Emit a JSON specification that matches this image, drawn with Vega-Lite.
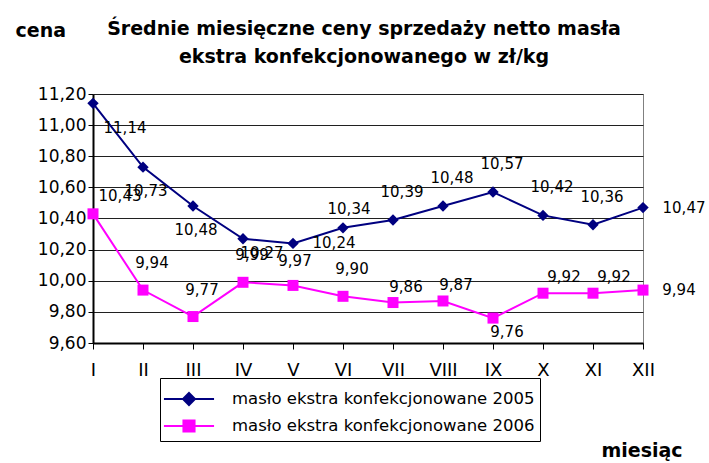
{
  "$schema": "https://vega.github.io/schema/vega-lite/v6.json",
  "width": 550,
  "height": 249,
  "autosize": "none",
  "padding": {"left": 93, "top": 94, "right": 66, "bottom": 120},
  "background": "#ffffff",
  "config": {
    "locale": {"number": {"decimal": ",", "thousands": " ", "grouping": [3], "currency": ["", " zł"]}},
    "view": {"stroke": "#808080", "strokeWidth": 1},
    "font": "DejaVu Sans"
  },
  "title": {
    "text": ["Średnie miesięczne ceny sprzedaży netto masła", "ekstra konfekcjonowanego w zł/kg"],
    "font": "DejaVu Sans",
    "fontSize": 19,
    "fontWeight": "bold",
    "color": "#000000",
    "anchor": "middle",
    "lineHeight": 28,
    "offset": -46,
    "dx": -4
  },
  "data": {
    "values": [
      {"miesiac": "I", "seria": "masło ekstra konfekcjonowane 2005", "cena": 11.14},
      {"miesiac": "II", "seria": "masło ekstra konfekcjonowane 2005", "cena": 10.73},
      {"miesiac": "III", "seria": "masło ekstra konfekcjonowane 2005", "cena": 10.48},
      {"miesiac": "IV", "seria": "masło ekstra konfekcjonowane 2005", "cena": 10.27},
      {"miesiac": "V", "seria": "masło ekstra konfekcjonowane 2005", "cena": 10.24},
      {"miesiac": "VI", "seria": "masło ekstra konfekcjonowane 2005", "cena": 10.34},
      {"miesiac": "VII", "seria": "masło ekstra konfekcjonowane 2005", "cena": 10.39},
      {"miesiac": "VIII", "seria": "masło ekstra konfekcjonowane 2005", "cena": 10.48},
      {"miesiac": "IX", "seria": "masło ekstra konfekcjonowane 2005", "cena": 10.57},
      {"miesiac": "X", "seria": "masło ekstra konfekcjonowane 2005", "cena": 10.42},
      {"miesiac": "XI", "seria": "masło ekstra konfekcjonowane 2005", "cena": 10.36},
      {"miesiac": "XII", "seria": "masło ekstra konfekcjonowane 2005", "cena": 10.47},
      {"miesiac": "I", "seria": "masło ekstra konfekcjonowane 2006", "cena": 10.43},
      {"miesiac": "II", "seria": "masło ekstra konfekcjonowane 2006", "cena": 9.94},
      {"miesiac": "III", "seria": "masło ekstra konfekcjonowane 2006", "cena": 9.77},
      {"miesiac": "IV", "seria": "masło ekstra konfekcjonowane 2006", "cena": 9.99},
      {"miesiac": "V", "seria": "masło ekstra konfekcjonowane 2006", "cena": 9.97},
      {"miesiac": "VI", "seria": "masło ekstra konfekcjonowane 2006", "cena": 9.90},
      {"miesiac": "VII", "seria": "masło ekstra konfekcjonowane 2006", "cena": 9.86},
      {"miesiac": "VIII", "seria": "masło ekstra konfekcjonowane 2006", "cena": 9.87},
      {"miesiac": "IX", "seria": "masło ekstra konfekcjonowane 2006", "cena": 9.76},
      {"miesiac": "X", "seria": "masło ekstra konfekcjonowane 2006", "cena": 9.92},
      {"miesiac": "XI", "seria": "masło ekstra konfekcjonowane 2006", "cena": 9.92},
      {"miesiac": "XII", "seria": "masło ekstra konfekcjonowane 2006", "cena": 9.94}
    ]
  },
  "encoding": {
    "x": {
      "field": "miesiac",
      "type": "ordinal",
      "scale": {"type": "point", "domain": ["I", "II", "III", "IV", "V", "VI", "VII", "VIII", "IX", "X", "XI", "XII"], "padding": 0},
      "axis": {
        "title": "miesiąc",
        "labelAngle": 0,
        "grid": false,
        "domainColor": "#000000",
        "domainWidth": 2,
        "tickColor": "#000000",
        "tickSize": 6,
        "labelPadding": 12,
        "labelFont": "DejaVu Sans",
        "labelFontSize": 18,
        "labelColor": "#000000",
        "titleX": 508,
        "titleY": 107,
        "titleAlign": "left",
        "titleBaseline": "middle",
        "titleFont": "DejaVu Sans",
        "titleFontSize": 19,
        "titleFontWeight": "bold",
        "titleColor": "#000000"
      }
    },
    "y": {
      "field": "cena",
      "type": "quantitative",
      "scale": {"domain": [9.6, 11.2], "nice": false, "zero": false},
      "axis": {
        "values": [9.6, 9.8, 10.0, 10.2, 10.4, 10.6, 10.8, 11.0, 11.2],
        "format": ".2f",
        "grid": true,
        "gridColor": "#202020",
        "gridWidth": 1,
        "domainColor": "#000000",
        "domainWidth": 2,
        "tickColor": "#000000",
        "tickSize": 5,
        "labelPadding": 2,
        "labelFont": "DejaVu Sans",
        "labelFontSize": 17,
        "labelColor": "#000000",
        "title": "cena",
        "titleAngle": 0,
        "titleX": -78,
        "titleY": -64,
        "titleAlign": "left",
        "titleBaseline": "middle",
        "titleFont": "DejaVu Sans",
        "titleFontSize": 19,
        "titleFontWeight": "bold",
        "titleColor": "#000000"
      }
    }
  },
  "layer": [
    {
      "mark": {"type": "line", "strokeWidth": 2},
      "encoding": {
        "color": {
          "field": "seria",
          "type": "nominal",
          "scale": {"domain": ["masło ekstra konfekcjonowane 2005", "masło ekstra konfekcjonowane 2006"], "range": ["#000080", "#FF00FF"]},
          "legend": {
            "orient": "none",
            "legendX": 67,
            "legendY": 284,
            "title": null,
            "strokeColor": "#000000",
            "fillColor": "#ffffff",
            "padding": 5,
            "labelFont": "DejaVu Sans",
            "labelFontSize": 16.5,
            "labelColor": "#000000",
            "labelLimit": 500,
            "symbolSize": 900,
            "symbolStrokeWidth": 2,
            "symbolOffset": 8,
            "labelOffset": 27,
            "rowPadding": 1,
            "encode": {
              "symbols": {
                "update": {
                  "shape": {"signal": "datum.value == 'masło ekstra konfekcjonowane 2005' ? 'M-1.67,0L1.67,0M0,-0.4L0.4,0L0,0.4L-0.4,0Z' : 'M-1.67,0L1.67,0M-0.37,-0.37L0.37,-0.37L0.37,0.37L-0.37,0.37Z'"},
                  "fill": {"scale": "color", "field": "value"},
                  "fillOpacity": {"value": 1}
                }
              }
            }
          }
        }
      }
    },
    {
      "transform": [{"filter": {"field": "seria", "equal": "masło ekstra konfekcjonowane 2005"}}],
      "mark": {"type": "point", "shape": "diamond", "filled": true, "size": 130, "opacity": 1, "color": "#000080"},
      "encoding": {}
    },
    {
      "transform": [{"filter": {"field": "seria", "equal": "masło ekstra konfekcjonowane 2006"}}],
      "mark": {"type": "point", "shape": "square", "filled": true, "size": 121, "opacity": 1, "color": "#FF00FF"},
      "encoding": {}
    },
    {
      "transform": [{"filter": {"and": [{"field": "seria", "equal": "masło ekstra konfekcjonowane 2005"}, {"field": "miesiac", "oneOf": ["I"]}]}}],
      "mark": {"type": "text", "dx": 32, "dy": 25, "fontSize": 15, "font": "DejaVu Sans", "fill": "#000000", "align": "center", "baseline": "middle"},
      "encoding": {"text": {"field": "cena", "type": "quantitative", "format": ".2f"}}
    },
    {
      "transform": [{"filter": {"and": [{"field": "seria", "equal": "masło ekstra konfekcjonowane 2005"}, {"field": "miesiac", "oneOf": ["II", "III"]}]}}],
      "mark": {"type": "text", "dx": 3, "dy": 24, "fontSize": 15, "font": "DejaVu Sans", "fill": "#000000", "align": "center", "baseline": "middle"},
      "encoding": {"text": {"field": "cena", "type": "quantitative", "format": ".2f"}}
    },
    {
      "transform": [{"filter": {"and": [{"field": "seria", "equal": "masło ekstra konfekcjonowane 2005"}, {"field": "miesiac", "oneOf": ["IV"]}]}}],
      "mark": {"type": "text", "dx": 19, "dy": 14, "fontSize": 15, "font": "DejaVu Sans", "fill": "#000000", "align": "center", "baseline": "middle"},
      "encoding": {"text": {"field": "cena", "type": "quantitative", "format": ".2f"}}
    },
    {
      "transform": [{"filter": {"and": [{"field": "seria", "equal": "masło ekstra konfekcjonowane 2005"}, {"field": "miesiac", "oneOf": ["V", "XII"]}]}}],
      "mark": {"type": "text", "dx": 41, "dy": 0, "fontSize": 15, "font": "DejaVu Sans", "fill": "#000000", "align": "center", "baseline": "middle"},
      "encoding": {"text": {"field": "cena", "type": "quantitative", "format": ".2f"}}
    },
    {
      "transform": [{"filter": {"and": [{"field": "seria", "equal": "masło ekstra konfekcjonowane 2005"}, {"field": "miesiac", "oneOf": ["VI"]}]}}],
      "mark": {"type": "text", "dx": 6, "dy": -19, "fontSize": 15, "font": "DejaVu Sans", "fill": "#000000", "align": "center", "baseline": "middle"},
      "encoding": {"text": {"field": "cena", "type": "quantitative", "format": ".2f"}}
    },
    {
      "transform": [{"filter": {"and": [{"field": "seria", "equal": "masło ekstra konfekcjonowane 2005"}, {"field": "miesiac", "oneOf": ["VII", "VIII", "IX", "X", "XI"]}]}}],
      "mark": {"type": "text", "dx": 9, "dy": -28, "fontSize": 15, "font": "DejaVu Sans", "fill": "#000000", "align": "center", "baseline": "middle"},
      "encoding": {"text": {"field": "cena", "type": "quantitative", "format": ".2f"}}
    },
    {
      "transform": [{"filter": {"and": [{"field": "seria", "equal": "masło ekstra konfekcjonowane 2006"}, {"field": "miesiac", "oneOf": ["I"]}]}}],
      "mark": {"type": "text", "dx": 27, "dy": -18, "fontSize": 15, "font": "DejaVu Sans", "fill": "#000000", "align": "center", "baseline": "middle"},
      "encoding": {"text": {"field": "cena", "type": "quantitative", "format": ".2f"}}
    },
    {
      "transform": [{"filter": {"and": [{"field": "seria", "equal": "masło ekstra konfekcjonowane 2006"}, {"field": "miesiac", "oneOf": ["II", "III", "IV", "VI"]}]}}],
      "mark": {"type": "text", "dx": 9, "dy": -27, "fontSize": 15, "font": "DejaVu Sans", "fill": "#000000", "align": "center", "baseline": "middle"},
      "encoding": {"text": {"field": "cena", "type": "quantitative", "format": ".2f"}}
    },
    {
      "transform": [{"filter": {"and": [{"field": "seria", "equal": "masło ekstra konfekcjonowane 2006"}, {"field": "miesiac", "oneOf": ["V"]}]}}],
      "mark": {"type": "text", "dx": 2, "dy": -24, "fontSize": 15, "font": "DejaVu Sans", "fill": "#000000", "align": "center", "baseline": "middle"},
      "encoding": {"text": {"field": "cena", "type": "quantitative", "format": ".2f"}}
    },
    {
      "transform": [{"filter": {"and": [{"field": "seria", "equal": "masło ekstra konfekcjonowane 2006"}, {"field": "miesiac", "oneOf": ["VII", "VIII"]}]}}],
      "mark": {"type": "text", "dx": 13, "dy": -16, "fontSize": 15, "font": "DejaVu Sans", "fill": "#000000", "align": "center", "baseline": "middle"},
      "encoding": {"text": {"field": "cena", "type": "quantitative", "format": ".2f"}}
    },
    {
      "transform": [{"filter": {"and": [{"field": "seria", "equal": "masło ekstra konfekcjonowane 2006"}, {"field": "miesiac", "oneOf": ["IX"]}]}}],
      "mark": {"type": "text", "dx": 14, "dy": 14, "fontSize": 15, "font": "DejaVu Sans", "fill": "#000000", "align": "center", "baseline": "middle"},
      "encoding": {"text": {"field": "cena", "type": "quantitative", "format": ".2f"}}
    },
    {
      "transform": [{"filter": {"and": [{"field": "seria", "equal": "masło ekstra konfekcjonowane 2006"}, {"field": "miesiac", "oneOf": ["X", "XI"]}]}}],
      "mark": {"type": "text", "dx": 21, "dy": -16, "fontSize": 15, "font": "DejaVu Sans", "fill": "#000000", "align": "center", "baseline": "middle"},
      "encoding": {"text": {"field": "cena", "type": "quantitative", "format": ".2f"}}
    },
    {
      "transform": [{"filter": {"and": [{"field": "seria", "equal": "masło ekstra konfekcjonowane 2006"}, {"field": "miesiac", "oneOf": ["XII"]}]}}],
      "mark": {"type": "text", "dx": 36, "dy": 0, "fontSize": 15, "font": "DejaVu Sans", "fill": "#000000", "align": "center", "baseline": "middle"},
      "encoding": {"text": {"field": "cena", "type": "quantitative", "format": ".2f"}}
    }
  ]
}
